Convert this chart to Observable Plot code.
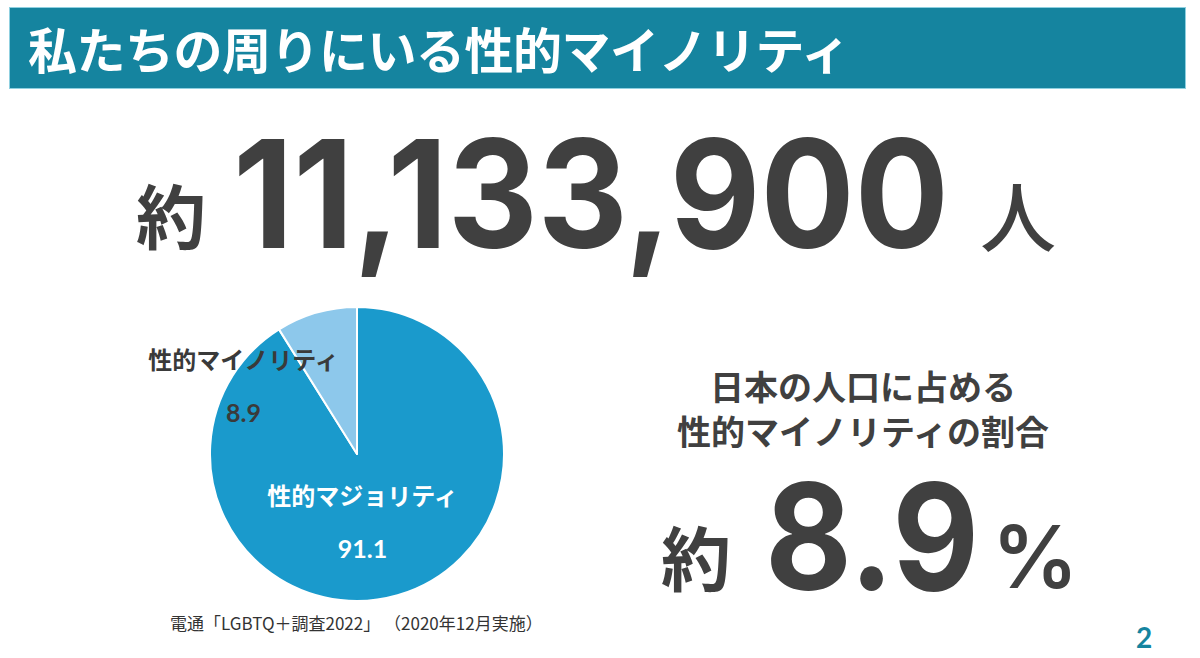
<!DOCTYPE html>
<html lang="ja">
<head>
<meta charset="utf-8">
<script src="https://cdn.jsdelivr.net/npm/d3@7"></script>
<script src="https://cdn.jsdelivr.net/npm/@observablehq/plot@0.6"></script>
<style>
  html, body { margin: 0; padding: 0; background: #fff; }
  body { width: 1200px; height: 658px; position: relative; overflow: hidden;
         font-family: "Noto Sans CJK JP", "Noto Sans", sans-serif; color: #404040; }
  .abs { position: absolute; white-space: nowrap; }
  #header { left: 10px; top: 8px; width: 1175px; height: 80px; background: #15849f;
            box-shadow: 0 0 0 1px #8fd0e0; }
  #title { left: 28px; top: 8px; height: 80px; line-height: 80px; font-size: 49px;
           font-weight: 700; color: #fff; letter-spacing: -0.5px; }
  #source { left: 170px; top: 610px; font-size: 17px; color: #333; }
  #page { left: 1136px; top: 620px; font-family: Lato, "Open Sans", sans-serif; font-size: 28px;
          font-weight: 700; color: #15849f; }
  #big { left: 0; top: 0; }
  #pie { left: 130px; top: 290px; }
</style>
</head>
<body>
<div id="header" class="abs"></div>
<div id="title" class="abs"></div>
<svg id="big" class="abs" width="1200" height="658"></svg>
<div id="pie" class="abs"></div>
<div id="source" class="abs"></div>
<div id="page" class="abs"></div>
<script>
// ---- data ----
const titleText = "私たちの周りにいる性的マイノリティ";
const totalPrefix = "約";
const totalPeople = "11,133,900";
const totalUnit = "人";
const shareHeading = ["日本の人口に占める", "性的マイノリティの割合"];
const sharePrefix = "約";
const shareValue = "8.9";
const shareUnit = "%";
const categories = ["性的マジョリティ", "性的マイノリティ"];
const values = [91.1, 8.9];
const sourceText = "電通「LGBTQ＋調査2022」 （2020年12月実施）";
const pageNumber = "2";

// ---- layout / style ----
const sliceColors = {"性的マジョリティ": "#1a9acc", "性的マイノリティ": "#8dc8eb"};
const labelColors = {"性的マジョリティ": "#ffffff", "性的マイノリティ": "#3a3a3a"};
const labelOffsets = {"性的マジョリティ": [5, 43], "性的マイノリティ": [-114, -93]};
const pieRadius = 147;

document.getElementById("title").textContent = titleText;
document.getElementById("source").textContent = sourceText;
document.getElementById("page").textContent = pageNumber;

// ---- big headline texts ----
const big = d3.select("#big");
const dark = "#404040";
function txt(s, x, y, size, opts = {}) {
  const t = big.append("text").text(s)
    .attr("fill", opts.fill || dark)
    .attr("font-size", size)
    .attr("font-weight", opts.weight || 700)
    .attr("font-family", opts.family || '"Noto Sans CJK JP", sans-serif')
    .attr("text-anchor", opts.anchor || "start");
  if (opts.width) {
    const natural = t.node().getComputedTextLength() || opts.width;
    const sx = opts.width / natural;
    t.attr("transform", `translate(${x},${y}) scale(${sx},1)`);
  } else {
    t.attr("x", x).attr("y", y);
  }
  return t;
}
txt(totalPrefix, 136, 244, 70);
txt(totalPeople, 233, 248, 150, {family: "Inter, Lato, sans-serif", weight: 700, width: 716});
txt(totalUnit, 980, 246, 76, {weight: 500});

txt(shareHeading[0], 863, 400, 34, {anchor: "middle"});
txt(shareHeading[1], 863, 445, 34, {anchor: "middle"});
txt(sharePrefix, 661, 586, 70);
txt(shareValue, 765, 590, 148, {family: "Inter, Lato, sans-serif", weight: 700, width: 214});
txt(shareUnit, 992, 588, 86, {family: "Inter, Lato, sans-serif", weight: 600});

// ---- pie chart with Plot ----
const rows = categories.map((c, i) => ({category: c, value: values[i]}));
const arcs = d3.pie().sort(null).value(d => d.value)(rows);
const labels = rows.map(d => ({...d, ox: labelOffsets[d.category][0], oy: labelOffsets[d.category][1]}));

function pieMark(index, scales) {
  const cx = scales.x(0), cy = scales.y(0);
  const r = Math.abs(scales.x(pieRadius) - scales.x(0));
  const arc = d3.arc().innerRadius(0).outerRadius(r);
  const g = d3.create("svg:g").attr("transform", `translate(${cx},${cy})`);
  g.selectAll("path").data(arcs).join("path")
    .attr("d", arc)
    .attr("fill", d => sliceColors[d.data.category])
    .attr("stroke", "#fff")
    .attr("stroke-width", 2)
    .attr("stroke-linejoin", "round");
  return g.node();
}

const pie = Plot.plot({
  width: 420, height: 340,
  margin: 0,
  x: {domain: [-227, 193], range: [0, 420], axis: null},
  y: {domain: [-164, 176], range: [0, 340], axis: null},
  style: {background: "transparent", overflow: "visible"},
  marks: [
    pieMark,
    Plot.text(labels, {x: "ox", y: "oy", text: "category", fill: d => labelColors[d.category],
      fontSize: 24, fontWeight: 700, fontFamily: '"Noto Sans CJK JP", sans-serif'}),
    Plot.text(labels, {x: "ox", y: "oy", dy: 52, text: d => d.value.toFixed(1), fill: d => labelColors[d.category],
      fontSize: 25, fontWeight: 700, fontFamily: 'Lato, "Open Sans", sans-serif'})
  ]
});
document.getElementById("pie").appendChild(pie);
</script>
</body>
</html>
